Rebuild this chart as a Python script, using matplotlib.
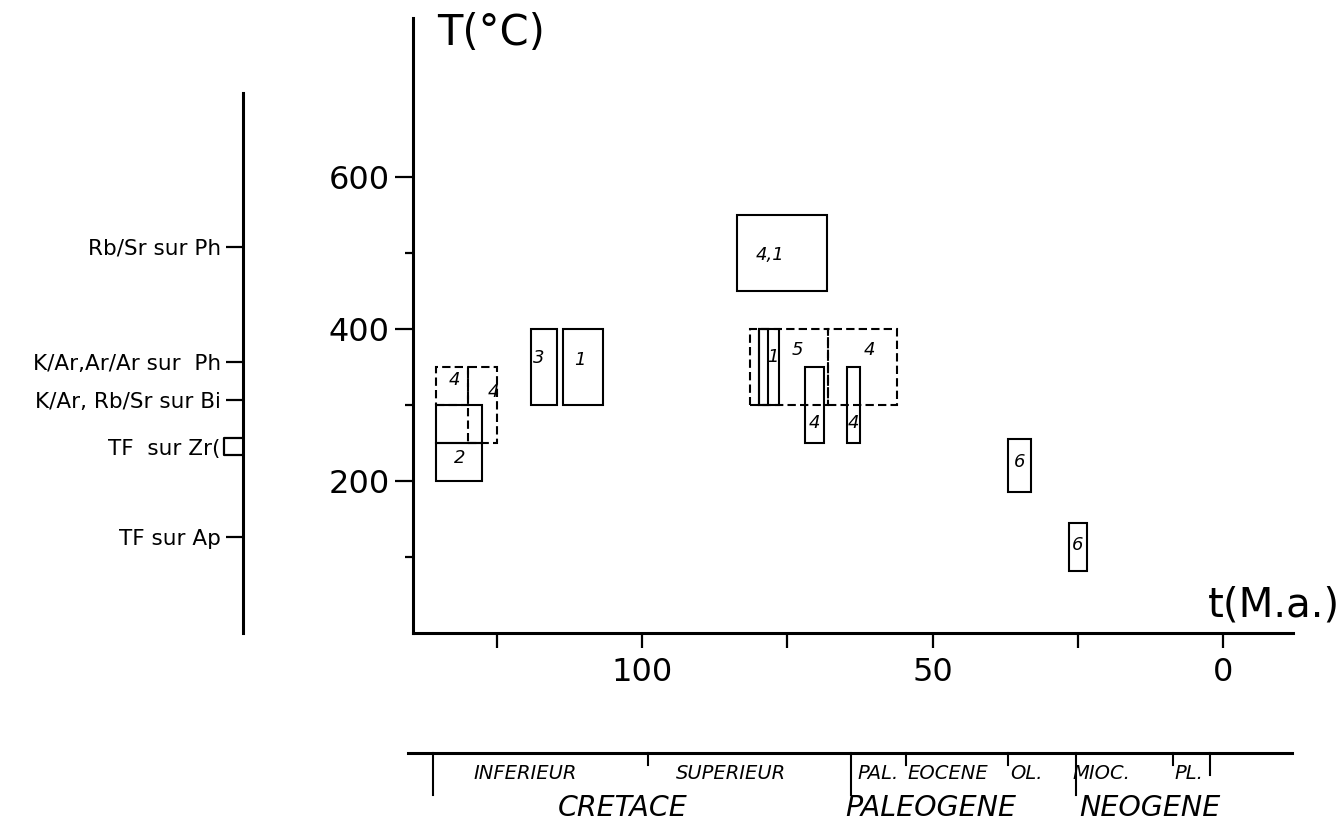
import matplotlib
matplotlib.use("Agg")
import matplotlib.pyplot as plt
from matplotlib.patches import Rectangle
from matplotlib.transforms import blended_transform_factory

# ---------------- data ----------------
# boxes: age range (Ma), temperature range (deg C)
box_labels = ["4", "4", "", "2", "3", "1", "4,1", "5", "4", "1", "", "4", "4", "6", "6"]
box_age_old = [135.5, 130.0, 135.5, 135.5, 119.1, 113.6, 83.6, 81.4, 68.0, 79.9, 79.9, 72.0, 64.7, 37.0, 26.5]
box_age_young = [130.0, 125.0, 127.5, 127.5, 114.6, 106.7, 68.2, 68.0, 56.1, 76.4, 78.3, 68.7, 62.5, 33.0, 23.4]
box_T_low = [300, 250, 250, 200, 300, 300, 450, 300, 300, 300, 300, 250, 250, 185, 82]
box_T_high = [350, 350, 300, 250, 400, 400, 550, 400, 400, 400, 400, 350, 350, 255, 145]
box_dashed = [True, True, False, False, False, False, False, True, True, False, False, False, False, False, False]
label_age = [132.2, 125.6, 131.0, 131.4, 117.7, 110.7, 78.0, 73.2, 60.8, 77.5, 79.0, 70.3, 63.6, 35.1, 25.0]
label_T = [333, 317, 275, 230, 362, 359, 497, 372, 372, 363, 350, 276, 276, 225, 116]

# left temperature scale (closure temperatures)
method_labels = ["Rb/Sr sur Ph", "K/Ar,Ar/Ar sur  Ph", "K/Ar, Rb/Sr sur Bi", "TF  sur Zr(", "TF sur Ap"]
method_T = [508, 357, 306, 245, 126]
zr_bracket = [234, 256]

# axis ticks
x_major = [100, 50, 0]
x_major_labels = ["100", "50", "0"]
x_minor = [125, 75, 25]
y_major = [200, 400, 600]
y_major_labels = ["200", "400", "600"]
y_minor = [100, 300, 500]

# stratigraphic scale
strat_bounds = [136.0, 99.0, 64.0, 54.5, 37.0, 25.3, 8.7, 2.2]
strat_kind = ["long", "short", "long", "short", "short", "long", "short", "mid"]
epoch_names = ["INFERIEUR", "SUPERIEUR", "PAL.", "EOCENE", "OL.", "MIOC.", "PL."]
epoch_age = [120.1, 84.7, 59.4, 47.3, 33.9, 21.0, 5.9]
period_names = ["CRETACE", "PALEOGENE", "NEOGENE"]
period_age = [103.4, 50.4, 12.6]

# ---------------- figure ----------------
W, H = 1341, 830
fig = plt.figure(figsize=(W / 100, H / 100), dpi=100)


def fx(px):
    return px / W


def fy(py):
    return 1 - py / H


XL = (139.4, -12.0)
YL = (0, 809)

ax = fig.add_axes([fx(413), fy(633), fx(1293) - fx(413), fy(18) - fy(633)])
ax.set_xlim(*XL)
ax.set_ylim(*YL)
for s in ["top", "right"]:
    ax.spines[s].set_visible(False)
for s in ["left", "bottom"]:
    ax.spines[s].set_linewidth(2.2)

ax.set_xticks(x_major)
ax.set_xticklabels(x_major_labels)
ax.set_xticks(x_minor, minor=True)
ax.set_yticks(y_major)
ax.set_yticklabels(y_major_labels)
ax.set_yticks(y_minor, minor=True)
ax.tick_params(axis="x", which="both", direction="out", length=11, width=1.6,
               labelsize=23, pad=6)
ax.tick_params(axis="y", which="major", direction="out", length=13, width=1.6,
               labelsize=23, pad=4)
ax.tick_params(axis="y", which="minor", direction="out", length=6, width=1.6)

for lab, ao, ay, tl, th, d, lx, ly in zip(box_labels, box_age_old, box_age_young,
                                          box_T_low, box_T_high, box_dashed,
                                          label_age, label_T):
    ls = (0, (4, 2)) if d else "-"
    ax.add_patch(Rectangle((ao, tl), ay - ao, th - tl, fill=False,
                           ec="black", lw=1.5, ls=ls))
    if lab:
        ax.text(lx, ly, lab, ha="center", va="center", fontsize=13,
                style="italic")

ax.text(0.027, 0.975, "T(°C)", transform=ax.transAxes, ha="left",
        va="center", fontsize=30)
ax.text(1.053, 0.045, "t(M.a.)", transform=ax.transAxes, ha="right",
        va="center", fontsize=29)

# ---------------- left scale ----------------
axl = fig.add_axes([fx(243), fy(633), 0.0008, fy(18) - fy(633)])
axl.set_ylim(*YL)
axl.set_xlim(0, 1)
for s in ["top", "right", "bottom"]:
    axl.spines[s].set_visible(False)
axl.spines["left"].set_linewidth(2.2)
axl.spines["left"].set_bounds(0, 710)
axl.set_xticks([])
axl.set_yticks(method_T)
axl.set_yticklabels(method_labels)
axl.tick_params(axis="y", direction="out", length=12, width=1.6,
                labelsize=15.5, pad=4)
axl.yaxis.get_major_ticks()[3].tick1line.set_visible(False)
tr = blended_transform_factory(fig.transFigure, axl.transData)
axl.plot([fx(243), fx(224), fx(224), fx(243)],
         [zr_bracket[1], zr_bracket[1], zr_bracket[0], zr_bracket[0]],
         color="black", lw=1.6, transform=tr, clip_on=False)

# ---------------- stratigraphic scale ----------------
axt = fig.add_axes([fx(413), 0, fx(1293) - fx(413), fy(753)])
axt.set_xlim(*XL)
axt.set_ylim(0, 1)
axt.axis("off")
axt.plot([140.3, -11.9], [1, 1], color="black", lw=2.2, clip_on=False)
kind_bottom = {"long": 0.45, "short": 0.85, "mid": 0.72}
for b, k in zip(strat_bounds, strat_kind):
    axt.plot([b, b], [1, kind_bottom[k]], color="black", lw=1.5,
             clip_on=False)
for n, a in zip(epoch_names, epoch_age):
    axt.text(a, 0.74, n, ha="center", va="center", fontsize=14,
             style="italic")
for n, a in zip(period_names, period_age):
    axt.text(a, 0.29, n, ha="center", va="center", fontsize=20.5,
             style="italic")

fig.savefig("out.png", dpi=100, facecolor="white")
